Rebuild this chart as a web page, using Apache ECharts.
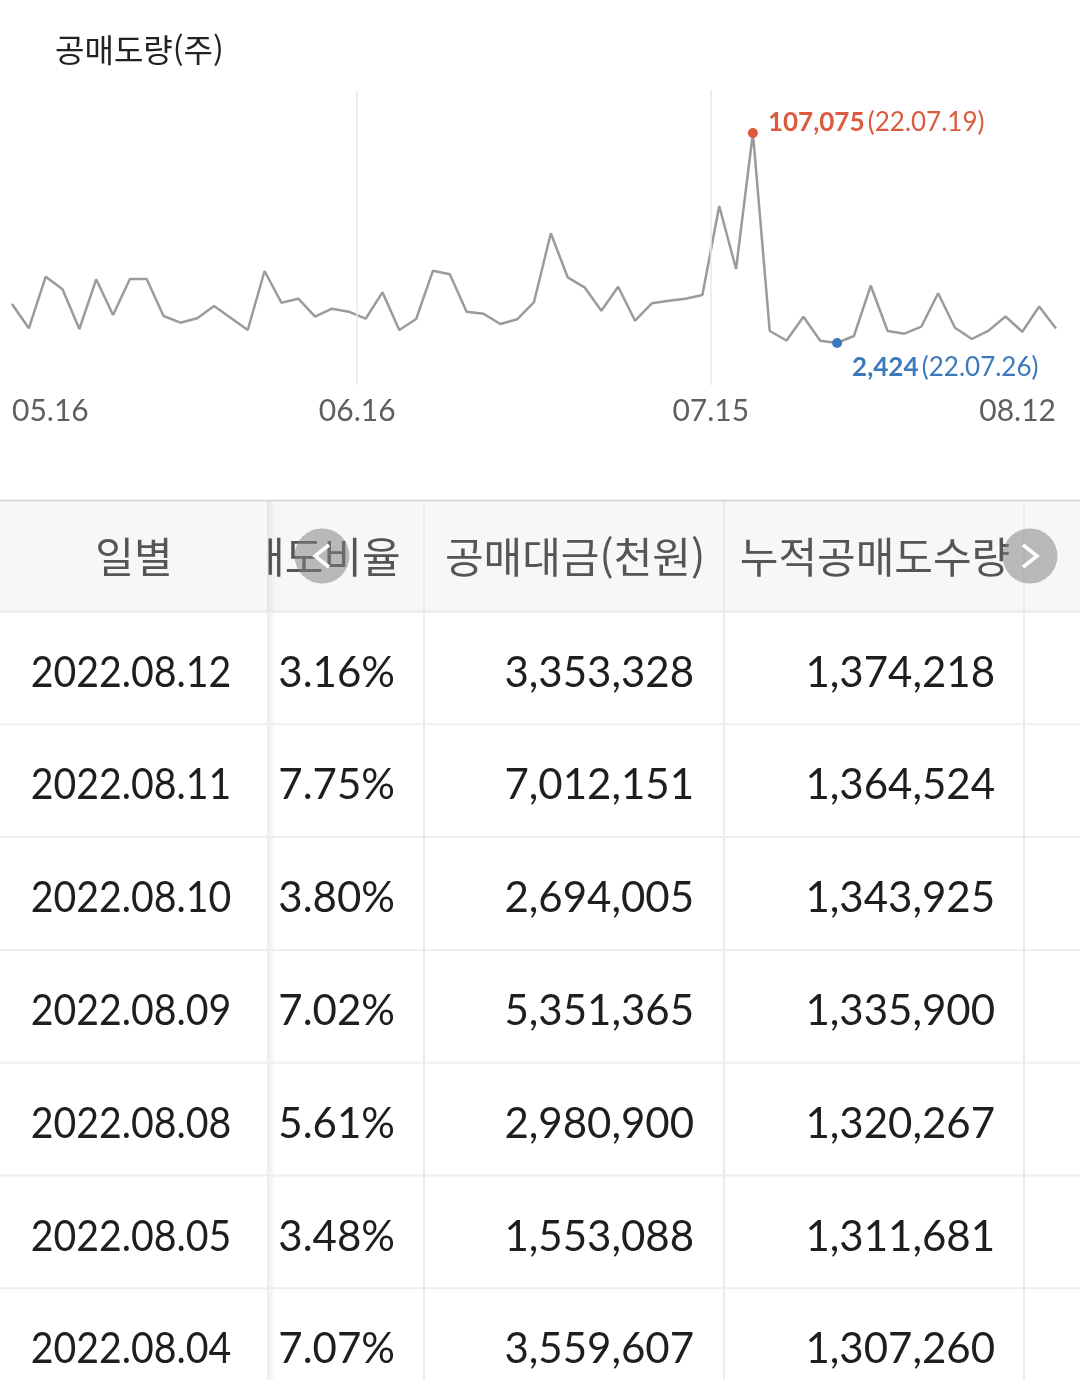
<!DOCTYPE html>
<html lang="ko">
<head>
<meta charset="utf-8">
<title>공매도량(주)</title>
<script src="https://cdn.jsdelivr.net/npm/echarts@6/dist/echarts.min.js"></script>
<style>
  html, body { margin: 0; padding: 0; background: #ffffff; }
  #main { width: 1080px; height: 1380px; }
</style>
</head>
<body>
<div id="main"></div>
<script>
// Trading days shown on the short-volume line (yy.mm.dd)
const tradeDates = [
  '22.05.16','22.05.17','22.05.18','22.05.19','22.05.20',
  '22.05.23','22.05.24','22.05.25','22.05.26','22.05.27',
  '22.05.30','22.05.31',
  '22.06.02','22.06.03',
  '22.06.07','22.06.08','22.06.09','22.06.10',
  '22.06.13','22.06.14','22.06.15','22.06.16','22.06.17',
  '22.06.20','22.06.21','22.06.22','22.06.23','22.06.24',
  '22.06.27','22.06.28','22.06.29','22.06.30',
  '22.07.01',
  '22.07.04','22.07.05','22.07.06','22.07.07','22.07.08',
  '22.07.11','22.07.12','22.07.13','22.07.14','22.07.15',
  '22.07.18','22.07.19','22.07.20','22.07.21','22.07.22',
  '22.07.25','22.07.26','22.07.27','22.07.28','22.07.29',
  '22.08.01','22.08.02','22.08.03','22.08.04','22.08.05',
  '22.08.08','22.08.09','22.08.10','22.08.11','22.08.12'
];

// Daily short-sale volume (shares)
const shortVolume = [
  21860, 9750, 35460, 29180, 9400,
  34170, 16380, 34320, 34280, 15880,
  12540, 14730,
  20860, 14880,
  8900, 38300, 22500, 24500,
  15530, 19520, 18020, 14530, 27690,
  8900, 14380, 38450, 36660, 18020,
  17020, 11890, 14230, 22850,
  57090,
  35160, 30180, 18520, 30480, 13540,
  22210, 23500, 24500, 26340, 70690,
  39300, 107075, 8400, 3670, 15530,
  3570, 2424, 5910, 30980, 8400,
  7060, 10550, 27190, 10050, 4421,
  8586, 15633, 8025, 20599, 9694
];

// Dates printed under the line
const axisTickDates = ['22.05.16', '22.06.16', '22.07.15', '22.08.12'];

// Daily table
const tableHeaders = ['일별', '공매도비율', '공매대금(천원)', '누적공매도수량'];
const tableDates = ['2022.08.12', '2022.08.11', '2022.08.10', '2022.08.09', '2022.08.08', '2022.08.05', '2022.08.04'];
const shortRatio = [3.16, 7.75, 3.80, 7.02, 5.61, 3.48, 7.07];
const shortAmount = [3353328, 7012151, 2694005, 5351365, 2980900, 1553088, 3559607];
const cumulativeShort = [1374218, 1364524, 1343925, 1335900, 1320267, 1311681, 1307260];

const RED = '#dc5a3e';
const BLUE = '#3c79ba';
const FONT_NUM = 'Lato, "Noto Sans", sans-serif';
const FONT_KR = '"Noto Sans CJK KR", "Noto Sans", sans-serif';
const fmt = n => n.toLocaleString('en-US');

const lastIdx = tradeDates.length - 1;
let maxIdx = 0, minIdx = 0;
shortVolume.forEach((v, i) => {
  if (v > shortVolume[maxIdx]) maxIdx = i;
  if (v < shortVolume[minIdx]) minIdx = i;
});

// Date ticks sit half a step before their trading day; the two ends stay on the edges
const tickPos = axisTickDates.map(d => {
  const i = tradeDates.indexOf(d);
  return (i === 0 || i === lastIdx) ? i : i - 0.5;
});
const tickText = {};
tickPos.forEach((p, k) => { tickText[String(p)] = axisTickDates[k].slice(3); });
const innerTicks = tickPos.filter(p => p !== 0 && p !== lastIdx);

// ---------- table drawn with graphic elements ----------
const W = 1080, H = 1380;
const tableTop = 500, headH = 111, rowH = 112.8, fixedW = 267;
const bodyTop = tableTop + headH + 1;
const colLines = [424, 724, 1024];
const headCenters = [134, 304, 575, 875];
const valueRights = [395, 694, 995];
const HEAD_SIZE = 42, CELL_SIZE = 42;

const els = [];
els.push({ type: 'rect', z: 1, shape: { x: 0, y: tableTop, width: W, height: headH + 1 }, style: { fill: '#f7f7f7' } });
colLines.forEach(x => els.push({
  type: 'line', z: 2, shape: { x1: x, y1: tableTop, x2: x, y2: H }, style: { stroke: '#ebebeb', lineWidth: 2 }
}));
const headY = tableTop + headH / 2 + 2;
for (let c = 1; c < tableHeaders.length; c++) {
  els.push({ type: 'text', z: 3, x: headCenters[c], y: headY, style: {
    text: tableHeaders[c], fontFamily: FONT_KR, fontSize: HEAD_SIZE, fill: '#555555',
    textAlign: 'center', textVerticalAlign: 'middle' } });
}
tableDates.forEach((d, r) => {
  const y = bodyTop + r * rowH + 61;
  const cells = [shortRatio[r].toFixed(2) + '%', fmt(shortAmount[r]), fmt(cumulativeShort[r])];
  cells.forEach((t, c) => els.push({ type: 'text', z: 3, x: valueRights[c], y: y, style: {
    text: t, fontFamily: FONT_NUM, fontSize: CELL_SIZE, fill: '#1e1e1e',
    textAlign: 'right', textVerticalAlign: 'middle' } }));
});

// fixed first column above the scrolled columns
els.push({ type: 'rect', z: 5, shape: { x: 0, y: tableTop, width: fixedW, height: H - tableTop }, style: { fill: '#ffffff' } });
els.push({ type: 'rect', z: 5, shape: { x: 0, y: tableTop, width: fixedW, height: headH + 1 }, style: { fill: '#f7f7f7' } });
els.push({ type: 'rect', z: 5, shape: { x: fixedW, y: tableTop, width: 9, height: H - tableTop }, style: {
  fill: { type: 'linear', x: 0, y: 0, x2: 1, y2: 0, colorStops: [
    { offset: 0, color: 'rgba(0,0,0,0.075)' }, { offset: 1, color: 'rgba(0,0,0,0)' }] } } });
els.push({ type: 'text', z: 7, x: headCenters[0], y: headY, style: {
  text: tableHeaders[0], fontFamily: FONT_KR, fontSize: HEAD_SIZE, fill: '#555555',
  textAlign: 'center', textVerticalAlign: 'middle' } });
tableDates.forEach((d, r) => els.push({ type: 'text', z: 7, x: 131, y: bodyTop + r * rowH + 61,
  scaleX: 0.935, originX: 0, originY: 0, style: {
  text: d, fontFamily: FONT_NUM, fontSize: CELL_SIZE, fill: '#1e1e1e',
  textAlign: 'center', textVerticalAlign: 'middle' } }));

// horizontal rules
els.push({ type: 'line', z: 6, shape: { x1: 0, y1: tableTop + 0.5, x2: W, y2: tableTop + 0.5 }, style: { stroke: '#d2d2d2', lineWidth: 1.5 } });
els.push({ type: 'line', z: 6, shape: { x1: 0, y1: bodyTop - 0.5, x2: W, y2: bodyTop - 0.5 }, style: { stroke: '#e8e8e8', lineWidth: 2 } });
for (let r = 1; r <= tableDates.length; r++) {
  const y = bodyTop + r * rowH - 0.5;
  els.push({ type: 'line', z: 6, shape: { x1: 0, y1: y, x2: W, y2: y }, style: { stroke: '#eeeeee', lineWidth: 2 } });
}

// scroll buttons
[[322, -1], [1030, 1]].forEach(([cx, dir]) => {
  const cy = 556;
  els.push({ type: 'circle', z: 10, shape: { cx: cx, cy: cy, r: 27.5 }, style: { fill: 'rgba(128,128,128,0.52)' } });
  els.push({ type: 'polyline', z: 11, shape: { points: [[cx - dir * 7, cy - 11], [cx + dir * 7, cy], [cx - dir * 7, cy + 11]] },
    style: { stroke: '#ffffff', lineWidth: 3.5, fill: null, lineJoin: 'miter' } });
});

const chart = echarts.init(document.getElementById('main'), null, { renderer: 'canvas' });
chart.setOption({
  animation: false,
  backgroundColor: '#ffffff',
  title: {
    text: '공매도량(주)', left: 55, top: 34, padding: 0,
    textStyle: { fontFamily: FONT_KR, fontSize: 32, fontWeight: 'normal', color: '#222222' }
  },
  grid: { left: 12, right: 24, top: 90, height: 295, containLabel: false, outerBoundsMode: 'none' },
  xAxis: {
    type: 'value', min: 0, max: lastIdx,
    axisLine: { show: false }, axisTick: { show: false }, splitLine: { show: false },
    axisLabel: {
      customValues: tickPos,
      formatter: v => tickText[String(v)] || '',
      alignMinLabel: 'left', alignMaxLabel: 'right',
      hideOverlap: false,
      fontFamily: FONT_NUM, fontSize: 30, color: '#5f5f5f', margin: 11
    }
  },
  yAxis: { type: 'value', min: -18500, max: 128500, show: false, splitLine: { show: false } },
  series: [{
    type: 'line',
    data: shortVolume.map((v, i) => [i, v]),
    symbol: 'none',
    lineStyle: { color: '#9b9b9b', width: 2.5 },
    silent: true,
    markLine: {
      silent: true, symbol: ['none', 'none'], label: { show: false },
      lineStyle: { color: '#e8e8e8', width: 1.5, type: 'solid' },
      data: innerTicks.map(p => ({ xAxis: p }))
    },
    markPoint: {
      symbol: 'circle', symbolSize: 10, silent: true,
      data: [
        { coord: [maxIdx, shortVolume[maxIdx]], itemStyle: { color: RED },
          label: { show: true, position: 'right', distance: 10, offset: [0, -10],
            formatter: () => '{v|' + fmt(shortVolume[maxIdx]) + '} {d|(' + tradeDates[maxIdx] + ')}',
            rich: { v: { fontFamily: FONT_NUM, fontSize: 26, fontWeight: 'bold', color: RED },
                    d: { fontFamily: FONT_NUM, fontSize: 26, color: RED } } } },
        { coord: [minIdx, shortVolume[minIdx]], itemStyle: { color: BLUE },
          label: { show: true, position: 'right', distance: 10, offset: [0, 25],
            formatter: () => '{v|' + fmt(shortVolume[minIdx]) + '} {d|(' + tradeDates[minIdx] + ')}',
            rich: { v: { fontFamily: FONT_NUM, fontSize: 26, fontWeight: 'bold', color: BLUE },
                    d: { fontFamily: FONT_NUM, fontSize: 26, color: BLUE } } } }
      ]
    }
  }],
  graphic: { elements: els }
});
</script>
</body>
</html>
